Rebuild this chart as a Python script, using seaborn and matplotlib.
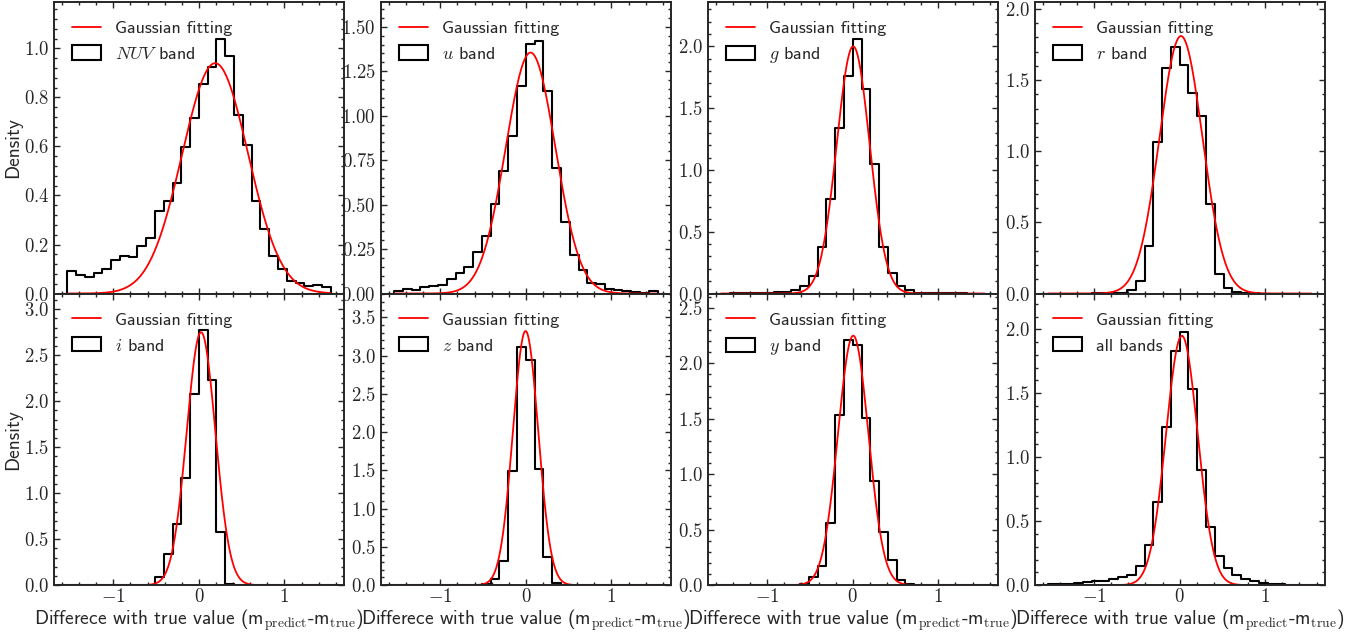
#  Magnitude prediction residuals, per band
import numpy as np
import pandas as pd
import seaborn as sns
import matplotlib.pyplot as plt
from matplotlib.lines import Line2D
from matplotlib.patches import Patch
from matplotlib.ticker import MultipleLocator, AutoMinorLocator, FormatStrFormatter

band_labels = [r'$NUV$ band', r'$u$ band', r'$g$ band', r'$r$ band',
               r'$i$ band', r'$z$ band', r'$y$ band', 'all bands']

# 30 bins between -1.54 and 1.54, density per bin
bin_lo, bin_hi, n_bins = -1.54, 1.54, 30

nuv = [0.091, 0.075, 0.067, 0.082, 0.102, 0.138, 0.154, 0.150, 0.195, 0.226,
       0.337, 0.377, 0.450, 0.598, 0.716, 0.854, 0.924, 1.037, 0.971, 0.727,
       0.606, 0.378, 0.265, 0.153, 0.101, 0.052, 0.044, 0.030, 0.033, 0.025]
u = [0.013, 0.026, 0.022, 0.034, 0.041, 0.047, 0.079, 0.113, 0.150, 0.234,
     0.321, 0.506, 0.690, 0.885, 1.168, 1.406, 1.421, 1.138, 0.707, 0.403,
     0.216, 0.135, 0.060, 0.053, 0.028, 0.019, 0.015, 0.011, 0.004, 0.015]
g = [0.0, 0.001, 0.001, 0.002, 0.004, 0.006, 0.012, 0.012, 0.027, 0.059,
     0.138, 0.378, 0.768, 1.343, 1.762, 2.059, 1.657, 1.046, 0.378, 0.168,
     0.062, 0.032, 0.008, 0.005, 0.004, 0.003, 0.001, 0.001, 0.0, 0.0]
r = [0.0, 0.0, 0.0, 0.0, 0.0, 0.001, 0.001, 0.003, 0.007, 0.028,
     0.087, 0.336, 1.068, 1.587, 1.730, 1.603, 1.411, 1.249, 0.631, 0.134,
     0.038, 0.009, 0.003, 0.001, 0.0, 0.0, 0.0, 0.0, 0.0, 0.0]
i = [0.0, 0.0, 0.0, 0.0, 0.0, 0.0, 0.0, 0.0, 0.0, 0.0,
     0.090, 0.343, 0.669, 1.167, 2.078, 2.772, 2.230, 0.578, 0.011, 0.0,
     0.0, 0.0, 0.0, 0.0, 0.0, 0.0, 0.0, 0.0, 0.0, 0.0]
z = [0.0, 0.0, 0.0, 0.0, 0.0, 0.0, 0.0, 0.0, 0.0, 0.0,
     0.013, 0.078, 0.313, 1.496, 3.117, 2.935, 1.517, 0.370, 0.022, 0.0,
     0.0, 0.0, 0.0, 0.0, 0.0, 0.0, 0.0, 0.0, 0.0, 0.0]
y = [0.0, 0.0, 0.0, 0.0, 0.0, 0.0, 0.0, 0.002, 0.004, 0.010,
     0.075, 0.171, 0.562, 1.533, 2.210, 2.164, 1.503, 0.941, 0.475, 0.225,
     0.045, 0.008, 0.0, 0.0, 0.0, 0.0, 0.0, 0.0, 0.0, 0.0]
all_bands = [0.008, 0.008, 0.010, 0.013, 0.021, 0.029, 0.034, 0.047, 0.065, 0.083,
             0.151, 0.310, 0.652, 1.239, 1.831, 1.982, 1.531, 0.900, 0.451, 0.229,
             0.136, 0.078, 0.050, 0.029, 0.018, 0.010, 0.005, 0.003, 0.002, 0.001]
hists = [nuv, u, g, r, i, z, y, all_bands]

# gaussian fit parameters (amplitude, mean, sigma)
fit_amp = [0.94, 1.355, 2.0, 1.81, 2.75, 3.32, 2.25, 1.95]
fit_mu = [0.19, 0.055, 0.005, 0.015, 0.025, -0.003, 0.005, 0.025]
fit_sigma = [0.385, 0.29, 0.192, 0.251, 0.168, 0.148, 0.178, 0.185]

y_top = [1.19, 1.64, 2.36, 2.05, 3.17, 3.81, 2.63, 2.28]
y_step = [0.2, 0.25, 0.5, 0.5, 0.5, 0.5, 0.5, 0.5]
y_fmt = ['$%.1f$', '$%.2f$', '$%.1f$', '$%.1f$', '$%.1f$', '$%.1f$', '$%.1f$', '$%.1f$']

sns.set_style('ticks')
plt.rcParams['font.family'] = ['cmss10', 'DejaVu Sans']
plt.rcParams['mathtext.fontset'] = 'cm'
plt.rcParams['axes.unicode_minus'] = False
plt.rcParams['axes.formatter.use_mathtext'] = True

edges = np.linspace(bin_lo, bin_hi, n_bins + 1)
w = edges[1] - edges[0]
# one empty bin on each side so the outline drops to zero at the ends
edges_pad = np.concatenate([[edges[0] - w], edges, [edges[-1] + w]])
centers_pad = (edges_pad[:-1] + edges_pad[1:]) / 2
xs = np.linspace(bin_lo, bin_hi, 400)

fig, axes = plt.subplots(2, 4, figsize=(13.67, 6.36), dpi=100)
plt.subplots_adjust(left=0.0395, right=0.969, top=0.997, bottom=0.080, wspace=0.128, hspace=0)

for k, ax in enumerate(axes.flat):
    df = pd.DataFrame({'diff': centers_pad,
                       'dens': np.concatenate([[0], hists[k], [0]])})
    sns.histplot(data=df, x='diff', weights='dens', bins=list(edges_pad), element='step',
                 fill=False, color='black', linewidth=1.5, ax=ax)
    gauss = fit_amp[k] * np.exp(-0.5 * ((xs - fit_mu[k]) / fit_sigma[k]) ** 2)
    ax.plot(xs, gauss, color='red', linewidth=1.3)

    ax.set_xlim(-1.694, 1.694)
    ax.set_ylim(0, y_top[k])
    ax.xaxis.set_major_locator(MultipleLocator(1))
    ax.xaxis.set_minor_locator(AutoMinorLocator(5))
    ax.yaxis.set_major_locator(MultipleLocator(y_step[k]))
    ax.yaxis.set_minor_locator(AutoMinorLocator(5))
    ax.xaxis.set_major_formatter(FormatStrFormatter('$%d$'))
    ax.yaxis.set_major_formatter(FormatStrFormatter(y_fmt[k]))
    ax.tick_params(which='both', direction='in', top=True, right=True, labelsize=13.5, width=1)
    ax.tick_params(which='major', length=4.5)
    ax.tick_params(which='minor', length=2.2)
    ax.tick_params(axis='x', pad=2)
    for s in ax.spines.values():
        s.set_linewidth(1.4)

    ax.set_ylabel('Density' if k % 4 == 0 else '', fontsize=14, labelpad=1)
    if k < 4:
        ax.set_xlabel('')
        ax.tick_params(labelbottom=False)
    else:
        ax.set_xlabel(r'Differece with true value (m$_{\rm predict}$-m$_{\rm true}$)',
                      fontsize=14, labelpad=1)

    handles = [Line2D([], [], color='red', linewidth=1.3),
               Patch(facecolor='none', edgecolor='black', linewidth=1.5)]
    ax.legend(handles, ['Gaussian fitting', band_labels[k]], loc='upper left',
              frameon=False, fontsize=13, handlelength=1.6, handleheight=0.85,
              borderaxespad=0.6)

plt.savefig('out.png', dpi=100)
